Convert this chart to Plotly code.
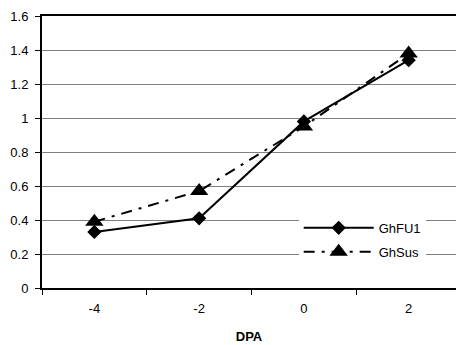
import plotly.graph_objects as go

dpa = [-4, -2, 0, 2]
ghfu1 = [0.33, 0.41, 0.98, 1.34]
ghsus = [0.39, 0.57, 0.95, 1.38]
y_ticks = [0, 0.2, 0.4, 0.6, 0.8, 1, 1.2, 1.4, 1.6]
y_ticktext = ["0", "0.2", "0.4", "0.6", "0.8", "1", "1.2", "1.4", "1.6"]

FONT = "Arial, Liberation Sans, sans-serif"

fig = go.Figure()
fig.add_trace(go.Scatter(
    x=dpa, y=ghfu1, name="GhFU1", mode="lines+markers", legendgroup="a",
    line=dict(color="black", width=2),
    marker=dict(symbol="diamond", size=11, color="black"),
))
fig.add_trace(go.Scatter(
    x=dpa, y=ghsus, name="GhSus", mode="lines+markers", legendgroup="b",
    line=dict(color="black", width=2, dash="11px,7px,3px,7px"),
    marker=dict(symbol="triangle-up", size=16, color="black"),
))

fig.update_layout(
    width=456, height=345,
    margin=dict(l=42, r=0, t=16, b=57),
    paper_bgcolor="white", plot_bgcolor="white",
    font=dict(family=FONT, size=13, color="black"),
    showlegend=True,
    legend=dict(
        x=0.62, y=0.177, xanchor="left", yanchor="middle",
        bgcolor="white", borderwidth=0,
        font=dict(family=FONT, size=13, color="black"),
        itemsizing="trace", tracegroupgap=4, itemwidth=70,
    ),
    xaxis=dict(
        range=[-5.0, 2.904], tickmode="array", tickvals=dpa,
        ticktext=[str(v) for v in dpa], ticks="", showgrid=False,
        zeroline=False, showline=True, linecolor="black", linewidth=2,
        mirror=True, ticklabelstandoff=7,
        minor=dict(ticks="outside", tick0=-5, dtick=2, ticklen=5,
                   tickcolor="black", tickwidth=1, showgrid=False),
        title=dict(text="<b>DPA</b>", font=dict(family=FONT, size=13), standoff=17),
    ),
    yaxis=dict(
        range=[0, 1.6], tickmode="array", tickvals=y_ticks, ticktext=y_ticktext,
        ticks="outside", ticklen=5, tickcolor="black", tickwidth=1,
        showgrid=True, gridcolor="#808080", gridwidth=1,
        zeroline=False, showline=True, linecolor="black", linewidth=2,
        ticklabelstandoff=4,
    ),
)

fig.write_html("out.html")
